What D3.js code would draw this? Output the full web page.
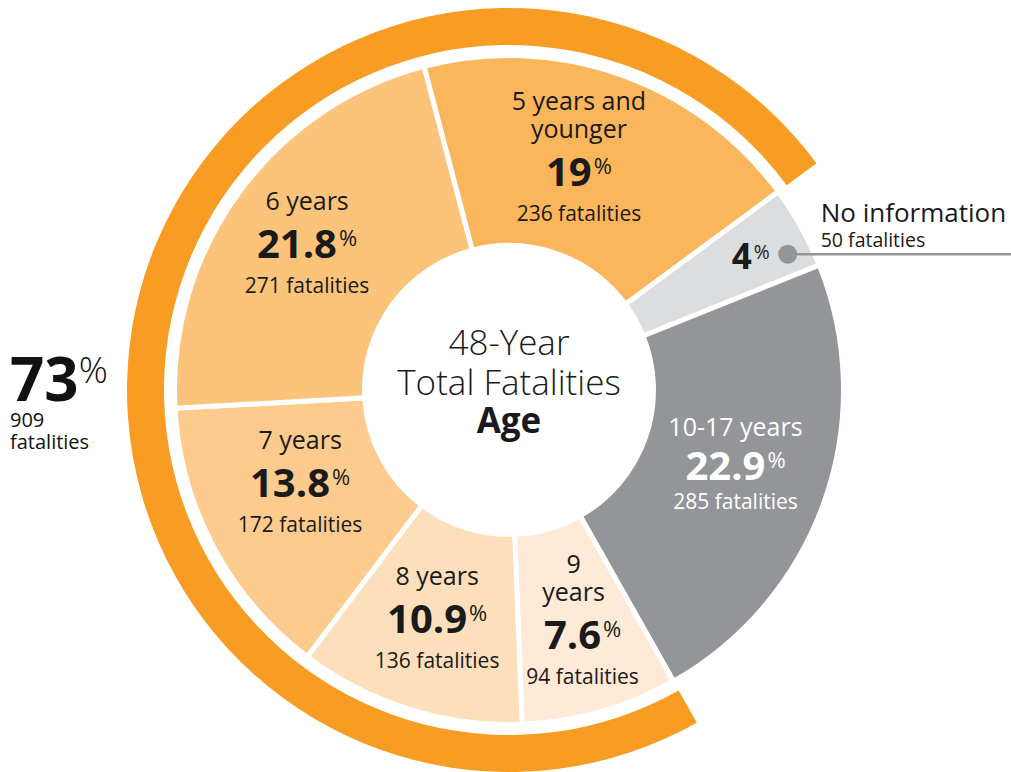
<!DOCTYPE html>
<html>
<head>
<meta charset="utf-8">
<script src="https://cdn.jsdelivr.net/npm/d3@7"></script>
<style>
  body { margin: 0; background: #fff; }
  svg { display: block; font-family: "Open Sans", "Noto Sans", sans-serif; }
</style>
</head>
<body>
<div id="chart"></div>
<script>
const width = 1011
const height = 772

// age groups, clockwise, starting at the "No information" slice
const groupLines = [["No information"], ["10-17 years"], ["9", "years"], ["8 years"], ["7 years"], ["6 years"], ["5 years and", "younger"]]
const fatalities = [50, 285, 94, 136, 172, 271, 236]
const pctLabels = ["4", "22.9", "7.6", "10.9", "13.8", "21.8", "19"]
const sliceColors = ["#dcdddf", "#939598", "#feead6", "#fddfbb", "#fdcb8e", "#fcc47b", "#fbb65c"]

// bracket around the children groups (9 years and younger)
const youngTotal = 909
const youngPct = "73"
const youngFirst = 2   // index of "9 years"
const youngLast = 6    // index of "5 years and younger"

const cx = 509, cy = 390
const rInner = 147, rOuter = 332
const startDeg = 53.6
const toRad = Math.PI / 180

const svg = d3.select("#chart")
  .append("svg")
  .attr("width", width)
  .attr("height", height)

const g = svg.append("g")
  .attr("transform", `translate(${cx},${cy})`)

const data = fatalities.map((v, i) => ({ i, value: v, lines: groupLines[i], pct: pctLabels[i], color: sliceColors[i] }))

const pie = d3.pie()
  .sort(null)
  .value(d => d.value)
  .startAngle(startDeg * toRad)
  .endAngle(startDeg * toRad + 2 * Math.PI)

const arcs = pie(data)

// slices, white stroke makes the gaps
const arc = d3.arc()
  .innerRadius(rInner - 2.5)
  .outerRadius(rOuter + 2.5)

g.selectAll("path.slice")
  .data(arcs)
  .join("path")
  .attr("class", "slice")
  .attr("d", arc)
  .attr("fill", d => d.data.color)
  .attr("stroke", "white")
  .attr("stroke-width", 5)

// outer orange bracket
const bracket = d3.arc()
  .innerRadius(345)
  .outerRadius(382)
  .startAngle(arcs[youngFirst].startAngle)
  .endAngle(arcs[youngLast].endAngle)

g.append("path")
  .attr("d", bracket())
  .attr("fill", "#f89c24")

// center circle text
const center = g.append("text")
  .attr("text-anchor", "middle")
  .attr("fill", "#1a1a1a")
center.append("tspan").attr("x", 0).attr("y", -35)
  .attr("font-size", 35).attr("font-weight", 300).text("48-Year")
center.append("tspan").attr("x", 0).attr("y", 5)
  .attr("font-size", 35).attr("font-weight", 300).text("Total Fatalities")
center.append("tspan").attr("x", 0).attr("y", 43)
  .attr("font-size", 35).attr("font-weight", 700).text("Age")

// slice labels
const labelArc = d3.arc().innerRadius(240).outerRadius(240)
// small nudges per block: dy/dx for the block, nameDx for the name lines, gaps
const labelShift = {
  1: { dy: -5, pGap: 44, cGap: 29 },
  2: { nameDx: -9, dx: 8 },
  4: { dy: -20, dx: 3 },
  5: { dy: -5, dx: -8 },
  6: { dy: -6, dx: -10 }
}

function pctText(sel, value, size) {
  sel.append("tspan").attr("font-weight", 700).attr("font-size", size).text(value)
  sel.append("tspan").attr("font-weight", 400).attr("font-size", size * 0.55)
    .attr("dx", 2).attr("dy", -size * 0.3).text("%")
}

arcs.filter(d => d.data.i !== 0).forEach(d => {
  const s = labelShift[d.data.i] || {}
  const [lx0, ly0] = labelArc.centroid(d)
  const lx = lx0 + (s.dx || 0)
  const ly = ly0 + (s.dy || 0)
  const pGap = s.pGap || 48, cGap = s.cGap || 35
  const n = d.data.lines.length
  const total = 16 + 28 * (n - 1) + pGap + cGap
  const base = ly - total / 2 + 16
  const fill = d.data.i === 1 ? "white" : "#1a1a1a"
  const lg = g.append("g").attr("fill", fill).attr("text-anchor", "middle")
  d.data.lines.forEach((line, k) => {
    lg.append("text").attr("x", lx + (s.nameDx || 0)).attr("y", base + k * 28)
      .attr("font-size", 25).text(line)
  })
  const pBase = base + 28 * (n - 1) + pGap
  pctText(lg.append("text").attr("x", lx).attr("y", pBase), d.data.pct, 40)
  lg.append("text").attr("x", lx).attr("y", pBase + cGap)
    .attr("font-size", 21).text(`${d.data.value} fatalities`)
})

// "No information" call-out
const noInfo = arcs[0]
const dotAngle = (noInfo.startAngle + noInfo.endAngle) / 2 + 3.2 * toRad
const dotX = 310 * Math.sin(dotAngle)
const dotY = -310 * Math.cos(dotAngle)

g.append("line")
  .attr("x1", dotX).attr("y1", dotY)
  .attr("x2", width - cx).attr("y2", dotY)
  .attr("stroke", "#939598")
  .attr("stroke-width", 2.5)
g.append("circle")
  .attr("cx", dotX).attr("cy", dotY).attr("r", 9.5)
  .attr("fill", "#939598")

pctText(g.append("text").attr("x", dotX - 18).attr("y", dotY + 15)
  .attr("text-anchor", "end").attr("fill", "#1a1a1a"), noInfo.data.pct, 35)
g.append("text").attr("x", dotX + 33).attr("y", dotY - 32)
  .attr("font-size", 26).attr("fill", "#1a1a1a").text(noInfo.data.lines[0])
g.append("text").attr("x", dotX + 33).attr("y", dotY - 7)
  .attr("font-size", 19.5).attr("fill", "#1a1a1a").text(`${noInfo.data.value} fatalities`)

// 73% total on the left
const left = svg.append("g").attr("fill", "#111")
const big = left.append("text").attr("x", 10).attr("y", cy + 11)
big.append("tspan").attr("font-size", 60).attr("font-weight", 700).text(youngPct)
big.append("tspan").attr("font-size", 36).attr("font-weight", 300).attr("dy", -18).text("%")
left.append("text").attr("x", 10).attr("y", cy + 37).attr("font-size", 20).text(youngTotal)
left.append("text").attr("x", 10).attr("y", cy + 59).attr("font-size", 20).text("fatalities")
</script>
</body>
</html>
